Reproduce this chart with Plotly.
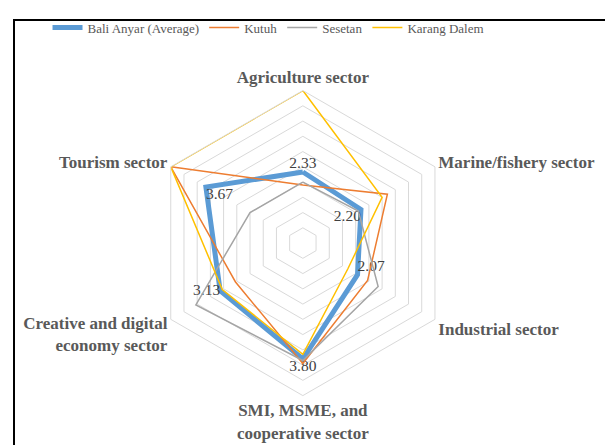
import plotly.graph_objects as go

categories = ["Agriculture sector", "Marine/fishery sector", "Industrial sector",
              "SMI, MSME, and<br>cooperative sector", "Creative and digital<br>economy sector",
              "Tourism sector"]
bali_anyar = [2.33, 2.20, 2.07, 3.80, 3.13, 3.67]
kutuh = [1.90, 3.20, 2.45, 3.95, 2.55, 5.00]
sesetan = [2.00, 2.10, 2.85, 3.85, 4.05, 2.00]
karang_dalem = [5.00, 3.00, 1.70, 3.65, 3.05, 5.00]
label_pos = ["top center", "bottom left", "top right", "bottom center", "middle left", "bottom right"]

SERIF = "Liberation Serif, Times New Roman, Tinos, DejaVu Serif, serif"

def closed(v):
    return list(v) + [v[0]]

fig = go.Figure()
series = [
    ("Bali Anyar (Average)", bali_anyar, "#5b9bd5", 5),
    ("Kutuh", kutuh, "#ed7d31", 1.5),
    ("Sesetan", sesetan, "#a5a5a5", 1.5),
    ("Karang Dalem", karang_dalem, "#ffc000", 1.5),
]
for name, vals, color, w in series:
    if name.startswith("Bali"):
        kw = dict(mode="lines+text", text=[f"{v:.2f}" for v in vals] + [""],
                  textposition=label_pos + ["top center"],
                  textfont=dict(family=SERIF, size=15.5, color="#404040"))
    else:
        kw = dict(mode="lines")
    fig.add_trace(go.Scatterpolar(
        r=closed(vals), theta=closed(categories), name=name,
        line=dict(color=color, width=w), cliponaxis=False, **kw))

fig.update_layout(
    width=613, height=445,
    margin=dict(l=0, r=0, t=0, b=0),
    paper_bgcolor="white",
    font=dict(family=SERIF, color="#595959"),
    showlegend=True,
    legend=dict(orientation="h", x=0.425, xanchor="center", y=0.956, yanchor="middle",
                font=dict(family=SERIF, size=13, color="#595959"),
                bgcolor="rgba(0,0,0,0)"),
    polar=dict(
        domain=dict(x=[0.232, 0.730], y=[0.129, 0.8145]),
        gridshape="linear",
        bgcolor="white",
        radialaxis=dict(range=[0, 5], dtick=0.5, showticklabels=False, ticks="",
                        showline=False, gridcolor="#d9d9d9", gridwidth=1),
        angularaxis=dict(rotation=90, direction="clockwise", showgrid=False,
                         showline=True, linecolor="#d9d9d9", linewidth=1, ticks="",
                         tickfont=dict(family=SERIF, size=17, color="#595959",
                                       weight="bold")),
    ),
    shapes=[dict(type="rect", xref="paper", yref="paper",
                 x0=6/613, x1=1.05, y0=-0.05, y1=1-12/445,
                 line=dict(color="black", width=2), fillcolor="rgba(0,0,0,0)")],
)
fig.write_html("out.html")
